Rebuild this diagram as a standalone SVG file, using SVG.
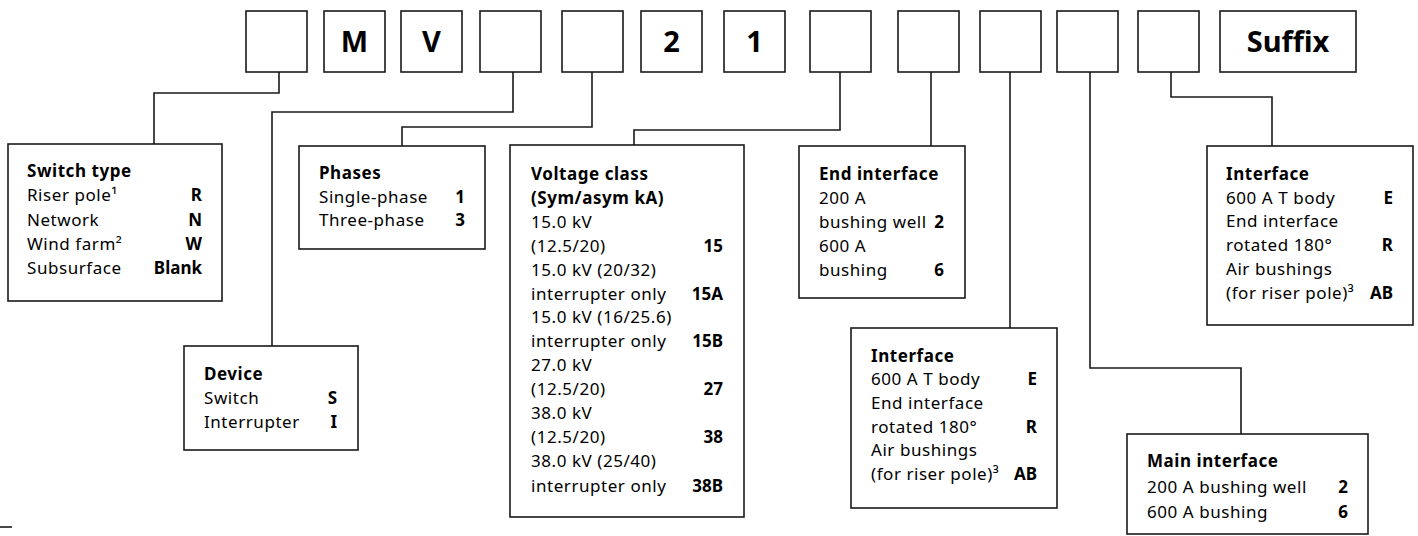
<svg xmlns="http://www.w3.org/2000/svg" width="1418" height="536" viewBox="0 0 1418 536">
<style>
.b{fill:#fff;stroke:#1a1a1a;stroke-width:1.6}
.c{fill:none;stroke:#1a1a1a;stroke-width:1.6}
text{font-family:"Noto Sans","Open Sans","DejaVu Sans",sans-serif;font-size:17px;fill:#000;letter-spacing:0.55px}
.h{font-weight:bold}
.v{font-weight:bold;text-anchor:end;letter-spacing:0}
.big{font-weight:bold;font-size:29px;text-anchor:middle;letter-spacing:0}
</style>
<rect width="1418" height="536" fill="#fff"/>
<g id="connectors">
<path class="c" d="M279,72 V93 H154 V144"/>
<path class="c" d="M513,72 V112 H272 V346"/>
<path class="c" d="M592,72 V127 H402 V146"/>
<path class="c" d="M840,72 V130 H634 V145"/>
<path class="c" d="M931,72 V146"/>
<path class="c" d="M1010,72 V328"/>
<path class="c" d="M1090,72 V368 H1241 V434"/>
<path class="c" d="M1171,72 V97 H1272 V146"/>
</g>
<g id="code">
<g id="k1"><rect class="b" x="246" y="11" width="61" height="61"/></g>
<g id="k2"><rect class="b" x="324" y="11" width="61" height="61"/><text class="big" x="354.5" y="52">M</text></g>
<g id="k3"><rect class="b" x="401" y="11" width="61" height="61"/><text class="big" x="431.5" y="52">V</text></g>
<g id="k4"><rect class="b" x="480" y="11" width="61" height="61"/></g>
<g id="k5"><rect class="b" x="562" y="11" width="61" height="61"/></g>
<g id="k6"><rect class="b" x="641" y="11" width="61" height="61"/><text class="big" x="671.5" y="52">2</text></g>
<g id="k7"><rect class="b" x="724" y="11" width="61" height="61"/><text class="big" x="754.5" y="52">1</text></g>
<g id="k8"><rect class="b" x="810" y="11" width="61" height="61"/></g>
<g id="k9"><rect class="b" x="898" y="11" width="61" height="61"/></g>
<g id="k10"><rect class="b" x="980" y="11" width="61" height="61"/></g>
<g id="k11"><rect class="b" x="1057" y="11" width="61" height="61"/></g>
<g id="k12"><rect class="b" x="1138" y="11" width="61" height="61"/></g>
<g id="k13"><rect class="b" x="1220" y="11" width="136" height="61"/><text class="big" x="1288" y="52">Suffix</text></g>
</g>
<g id="switch-type">
<rect class="b" x="8" y="144" width="214" height="157"/>
<text class="h" x="27" y="177">Switch type</text>
<text x="27" y="201">Riser pole¹</text><text class="v" x="202" y="201">R</text>
<text x="27" y="226">Network</text><text class="v" x="202" y="226">N</text>
<text x="27" y="250">Wind farm²</text><text class="v" x="202" y="250">W</text>
<text x="27" y="274">Subsurface</text><text class="v" x="202" y="274">Blank</text>
</g>
<g id="device">
<rect class="b" x="184" y="346" width="174" height="104"/>
<text class="h" x="204" y="380">Device</text>
<text x="204" y="404">Switch</text><text class="v" x="337" y="404">S</text>
<text x="204" y="428">Interrupter</text><text class="v" x="337" y="428">I</text>
</g>
<g id="phases">
<rect class="b" x="299" y="146" width="186" height="103"/>
<text class="h" x="319" y="179">Phases</text>
<text x="319" y="203">Single-phase</text><text class="v" x="465" y="203">1</text>
<text x="319" y="226">Three-phase</text><text class="v" x="465" y="226">3</text>
</g>
<g id="voltage-class">
<rect class="b" x="510" y="145" width="234" height="372"/>
<text class="h" x="531" y="180">Voltage class</text>
<text class="h" x="531" y="204">(Sym/asym kA)</text>
<text x="531" y="228">15.0 kV</text>
<text x="531" y="252">(12.5/20)</text><text class="v" x="723" y="252">15</text>
<text x="531" y="276">15.0 kV (20/32)</text>
<text x="531" y="300">interrupter only</text><text class="v" x="723" y="300">15A</text>
<text x="531" y="323">15.0 kV (16/25.6)</text>
<text x="531" y="347">interrupter only</text><text class="v" x="723" y="347">15B</text>
<text x="531" y="371">27.0 kV</text>
<text x="531" y="395">(12.5/20)</text><text class="v" x="723" y="395">27</text>
<text x="531" y="419">38.0 kV</text>
<text x="531" y="443">(12.5/20)</text><text class="v" x="723" y="443">38</text>
<text x="531" y="467">38.0 kV (25/40)</text>
<text x="531" y="491.5">interrupter only</text><text class="v" x="723" y="491.5">38B</text>
</g>
<g id="end-interface">
<rect class="b" x="799" y="146" width="166" height="152"/>
<text class="h" x="819" y="179.5">End interface</text>
<text x="819" y="203.5">200 A</text>
<text x="819" y="227.5">bushing well</text><text class="v" x="944" y="227.5">2</text>
<text x="819" y="251.5">600 A</text>
<text x="819" y="275.5">bushing</text><text class="v" x="944" y="275.5">6</text>
</g>
<g id="interface-1">
<rect class="b" x="851" y="328" width="206" height="180"/>
<text class="h" x="871" y="362">Interface</text>
<text x="871" y="385">600 A T body</text><text class="v" x="1037" y="385">E</text>
<text x="871" y="408.5">End interface</text>
<text x="871" y="432.5">rotated 180°</text><text class="v" x="1037" y="432.5">R</text>
<text x="871" y="456">Air bushings</text>
<text x="871" y="480">(for riser pole)³</text><text class="v" x="1037" y="480">AB</text>
</g>
<g id="interface-2">
<rect class="b" x="1207" y="146" width="206" height="179"/>
<text class="h" x="1226" y="179.5">Interface</text>
<text x="1226" y="203.5">600 A T body</text><text class="v" x="1393" y="203.5">E</text>
<text x="1226" y="227">End interface</text>
<text x="1226" y="251">rotated 180°</text><text class="v" x="1393" y="251">R</text>
<text x="1226" y="274.5">Air bushings</text>
<text x="1226" y="298.5">(for riser pole)³</text><text class="v" x="1393" y="298.5">AB</text>
</g>
<g id="main-interface">
<rect class="b" x="1127" y="434" width="241" height="100"/>
<text class="h" x="1147" y="467">Main interface</text>
<text x="1147" y="493">200 A bushing well</text><text class="v" x="1348" y="493">2</text>
<text x="1147" y="518">600 A bushing</text><text class="v" x="1348" y="518">6</text>
</g>
<line class="c" x1="0" y1="527" x2="12" y2="527"/>
</svg>
